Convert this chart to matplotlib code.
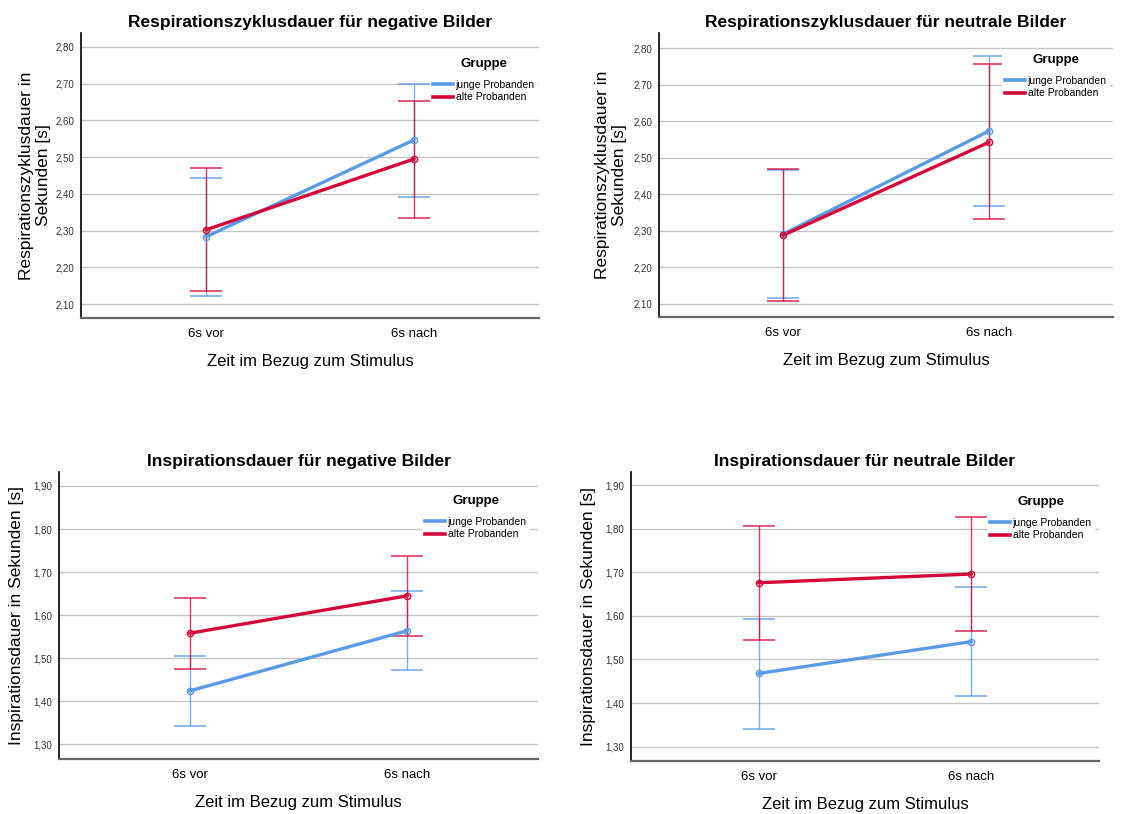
import matplotlib
matplotlib.use("Agg")
import matplotlib.pyplot as plt
from matplotlib.lines import Line2D

plt.rcParams['font.family'] = ['Liberation Sans', 'DejaVu Sans']

W, H = 1121, 814

# data (means and upper/lower error bar ends)
zeitpunkte = ['6s vor', '6s nach']
gruppen = ['junge Probanden', 'alte Probanden']

resp_neg_jung = [2.283, 2.547]
resp_neg_jung_lo = [2.122, 2.392]
resp_neg_jung_hi = [2.444, 2.700]
resp_neg_alt = [2.302, 2.495]
resp_neg_alt_lo = [2.135, 2.335]
resp_neg_alt_hi = [2.470, 2.654]

resp_neu_jung = [2.291, 2.574]
resp_neu_jung_lo = [2.116, 2.369]
resp_neu_jung_hi = [2.466, 2.778]
resp_neu_alt = [2.288, 2.543]
resp_neu_alt_lo = [2.109, 2.332]
resp_neu_alt_hi = [2.469, 2.756]

insp_neg_jung = [1.424, 1.564]
insp_neg_jung_lo = [1.343, 1.473]
insp_neg_jung_hi = [1.504, 1.655]
insp_neg_alt = [1.558, 1.645]
insp_neg_alt_lo = [1.474, 1.551]
insp_neg_alt_hi = [1.641, 1.738]

insp_neu_jung = [1.468, 1.541]
insp_neu_jung_lo = [1.341, 1.416]
insp_neu_jung_hi = [1.594, 1.667]
insp_neu_alt = [1.676, 1.696]
insp_neu_alt_lo = [1.545, 1.566]
insp_neu_alt_hi = [1.807, 1.827]

resp_ticks = [2.1, 2.2, 2.3, 2.4, 2.5, 2.6, 2.7, 2.8]
insp_ticks = [1.3, 1.4, 1.5, 1.6, 1.7, 1.8, 1.9]

BLAU = '#5a9be6'
ROT = '#d4073a'


def add_ax(fig, left, top, right, bottom):
    return fig.add_axes([left / W, 1 - bottom / H, (right - left) / W, (bottom - top) / H])


def draw_panel(fig, box, title, jung, alt, ylim, yticks, ylabel, ylab_x, legend_xy):
    ax = add_ax(fig, *box)
    x = list(range(len(zeitpunkte)))

    for mean, lo, hi, col in [jung, alt]:
        err = [[m - l for m, l in zip(mean, lo)], [h - m for m, h in zip(mean, hi)]]
        ax.errorbar(x, mean, yerr=err, fmt='none', ecolor=col, elinewidth=1.0,
                    capsize=11.5, capthick=1.2, alpha=0.8, zorder=3)
    for mean, lo, hi, col in [jung, alt]:
        ax.plot(x, mean, color=col, lw=2.4, zorder=4, solid_capstyle='round')
        ax.plot(x, mean, 'o', ms=4.5, mfc='none', mec=col, mew=1.0, zorder=5)

    ax.set_xlim(-0.6, 1.6)
    ax.set_ylim(*ylim)
    ax.set_yticks(yticks)
    ax.set_yticklabels([('%.2f' % t).replace('.', ',') for t in yticks], fontsize=7, color='#333333')
    ax.set_xticks(x)
    ax.set_xticklabels(zeitpunkte, fontsize=9.5)
    ax.tick_params(axis='both', length=0)
    ax.tick_params(axis='x', pad=7)
    ax.tick_params(axis='y', pad=5)
    ax.grid(axis='y', color='#c4c4c4', lw=1.0)
    ax.set_axisbelow(True)
    for s in ['top', 'right']:
        ax.spines[s].set_visible(False)
    ax.spines['left'].set_color('black')
    ax.spines['left'].set_linewidth(1.2)
    ax.spines['bottom'].set_color('#666666')
    ax.spines['bottom'].set_linewidth(1.6)

    ax.set_title(title, fontsize=12.5, fontweight='bold', pad=4)
    ax.set_xlabel('Zeit im Bezug zum Stimulus', fontsize=12, labelpad=10)
    ax.set_ylabel(ylabel, fontsize=12.5, linespacing=1.15)
    ax.yaxis.set_label_coords(ylab_x, 0.5)
    ax.yaxis.label.set_va('center')

    handles = [Line2D([], [], color=BLAU, lw=2.6), Line2D([], [], color=ROT, lw=2.6)]
    leg = ax.legend(handles, gruppen, title='Gruppe', fontsize=7.5, title_fontsize=9.5,
                    loc='upper left', bbox_to_anchor=(legend_xy[0] / W, 1 - legend_xy[1] / H),
                    bbox_transform=fig.transFigure, frameon=True, fancybox=False,
                    edgecolor='none', facecolor='white', framealpha=1,
                    handlelength=1.9, handletextpad=0.25, labelspacing=0.25,
                    borderpad=0.3, borderaxespad=0)
    leg.get_title().set_fontweight('bold')
    leg._legend_box.sep = 7
    return ax


fig = plt.figure(figsize=(W / 100, H / 100), dpi=100)

draw_panel(fig, (81, 33, 539, 318), 'Respirationszyklusdauer für negative Bilder',
           (resp_neg_jung, resp_neg_jung_lo, resp_neg_jung_hi, BLAU),
           (resp_neg_alt, resp_neg_alt_lo, resp_neg_alt_hi, ROT),
           (2.062, 2.838), resp_ticks, 'Respirationszyklusdauer in\nSekunden [s]', -0.1, (430, 55))

draw_panel(fig, (659, 33, 1113, 317), 'Respirationszyklusdauer für neutrale Bilder',
           (resp_neu_jung, resp_neu_jung_lo, resp_neu_jung_hi, BLAU),
           (resp_neu_alt, resp_neu_alt_lo, resp_neu_alt_hi, ROT),
           (2.0644, 2.842), resp_ticks, 'Respirationszyklusdauer in\nSekunden [s]', -0.105, (1002, 51))

draw_panel(fig, (59, 472, 538, 759), 'Inspirationsdauer für negative Bilder',
           (insp_neg_jung, insp_neg_jung_lo, insp_neg_jung_hi, BLAU),
           (insp_neg_alt, insp_neg_alt_lo, insp_neg_alt_hi, ROT),
           (1.2659, 1.9325), insp_ticks, 'Inspirationsdauer in Sekunden [s]', -0.088, (422, 492))

draw_panel(fig, (631, 472, 1099, 761), 'Inspirationsdauer für neutrale Bilder',
           (insp_neu_jung, insp_neu_jung_lo, insp_neu_jung_hi, BLAU),
           (insp_neu_alt, insp_neu_alt_lo, insp_neu_alt_hi, ROT),
           (1.2672, 1.930), insp_ticks, 'Inspirationsdauer in Sekunden [s]', -0.09, (987, 493))

fig.savefig('out.png', dpi=100)
